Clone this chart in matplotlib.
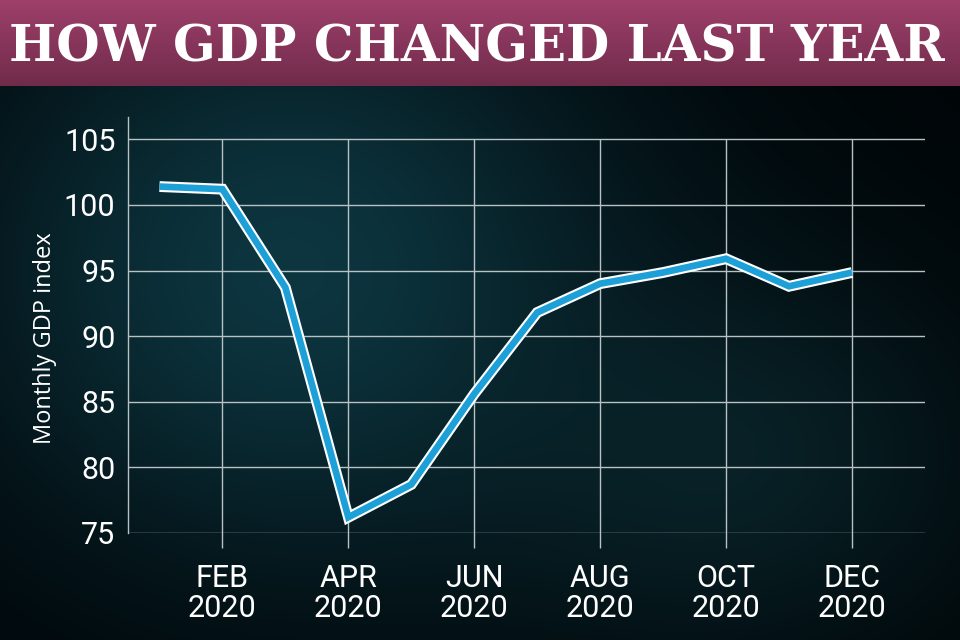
import numpy as np
import matplotlib
matplotlib.use('Agg')
import matplotlib.pyplot as plt
import matplotlib.patheffects as pe

# --- data ---
months = ['JAN', 'FEB', 'MAR', 'APR', 'MAY', 'JUN', 'JUL', 'AUG', 'SEP', 'OCT', 'NOV', 'DEC']
gdp_index = [101.4, 101.2, 93.7, 76.2, 78.7, 85.6, 91.8, 94.0, 94.85, 95.9, 93.8, 94.85]
tick_months = [1, 3, 5, 7, 9, 11]
tick_labels = ['FEB\n2020', 'APR\n2020', 'JUN\n2020', 'AUG\n2020', 'OCT\n2020', 'DEC\n2020']
y_ticks = [75, 80, 85, 90, 95, 100, 105]
title = 'HOW GDP CHANGED LAST YEAR'
y_label = 'Monthly GDP index'

W, H = 960, 640
fig = plt.figure(figsize=(9.6, 6.4), dpi=100)

# --- background glow ---
bg = fig.add_axes([0, 0, 1, 1], zorder=-10)
yy, xx = np.mgrid[0:H, 0:W]
g1 = np.exp(-(((xx - 290) / 330.0) ** 2 + ((yy - 270) / 300.0) ** 2))
g2 = np.exp(-(((xx - 730) / 260.0) ** 2 + ((yy - 460) / 200.0) ** 2))
base = np.array([0.0, 0.02, 0.03])
c1 = np.array([0.05, 0.21, 0.25])
c2 = np.array([0.03, 0.12, 0.14])
img = base + g1[..., None] * (c1 - base) + g2[..., None] * (c2 - base) * (1 - g1[..., None])
bg.imshow(np.clip(img, 0, 1), extent=[0, W, H, 0], aspect='auto')
bg.set_xlim(0, W)
bg.set_ylim(H, 0)
bg.axis('off')

# --- title banner ---
bh = 86
ban = fig.add_axes([0, 1 - bh / H, 1, bh / H], zorder=-5)
t = np.linspace(0, 1, 100)[:, None, None]
top = np.array([0.62, 0.25, 0.42])
bot = np.array([0.44, 0.17, 0.29])
ban.imshow(np.repeat(top + t * (bot - top), 2, axis=1), extent=[0, 1, 1, 0], aspect='auto')
ban.axis('off')
ttl = fig.text(477 / W, 1 - 48 / H, title, color='white', ha='center', va='center',
               fontsize=46, fontweight='bold', family='DejaVu Serif')
# shrink the title so it spans the banner like the original
fig.canvas.draw()
ttl.set_fontsize(46 * 935 / ttl.get_window_extent().width)

# --- chart ---
ax = fig.add_axes([128 / W, 1 - 533 / H, (925 - 128) / W, (533 - 117) / H])
ax.set_facecolor('none')
ax.set_xlim(-0.5, 12.16)
ax.set_ylim(75, 106.7)

grid_c = '#b8c2c4'
x = np.arange(len(months))
ax.hlines(y_ticks, -0.5, 12.16, color=grid_c, lw=1.0, zorder=1)
ax.vlines(tick_months, 73.85, 105, color=grid_c, lw=1.0, zorder=1, clip_on=False)

ax.plot(x, gdp_index, color='#1d9fd8', lw=4.8, zorder=3,
        solid_joinstyle='miter', solid_capstyle='butt',
        path_effects=[pe.Stroke(linewidth=7.8, foreground='white'), pe.Normal()])

for s in ['top', 'right', 'bottom']:
    ax.spines[s].set_visible(False)
ax.spines['left'].set_color(grid_c)
ax.spines['left'].set_linewidth(1.0)

tick_font = ['Liberation Sans Narrow', 'Roboto', 'DejaVu Sans']
ax.set_yticks(y_ticks)
ax.set_yticklabels([str(v) for v in y_ticks], color='white', fontsize=22, family=tick_font)
ax.tick_params(axis='y', length=0, pad=9)
ax.set_xticks(tick_months)
ax.set_xticklabels(tick_labels, color='white', fontsize=22, family=tick_font, linespacing=1.05)
ax.tick_params(axis='x', length=0, pad=22)

fig.text(45 / W, 1 - 338 / H, y_label, color='white', rotation=90, ha='center', va='center',
         fontsize=17, family=['Open Sans', 'DejaVu Sans'])

fig.savefig('out.png', dpi=100)
